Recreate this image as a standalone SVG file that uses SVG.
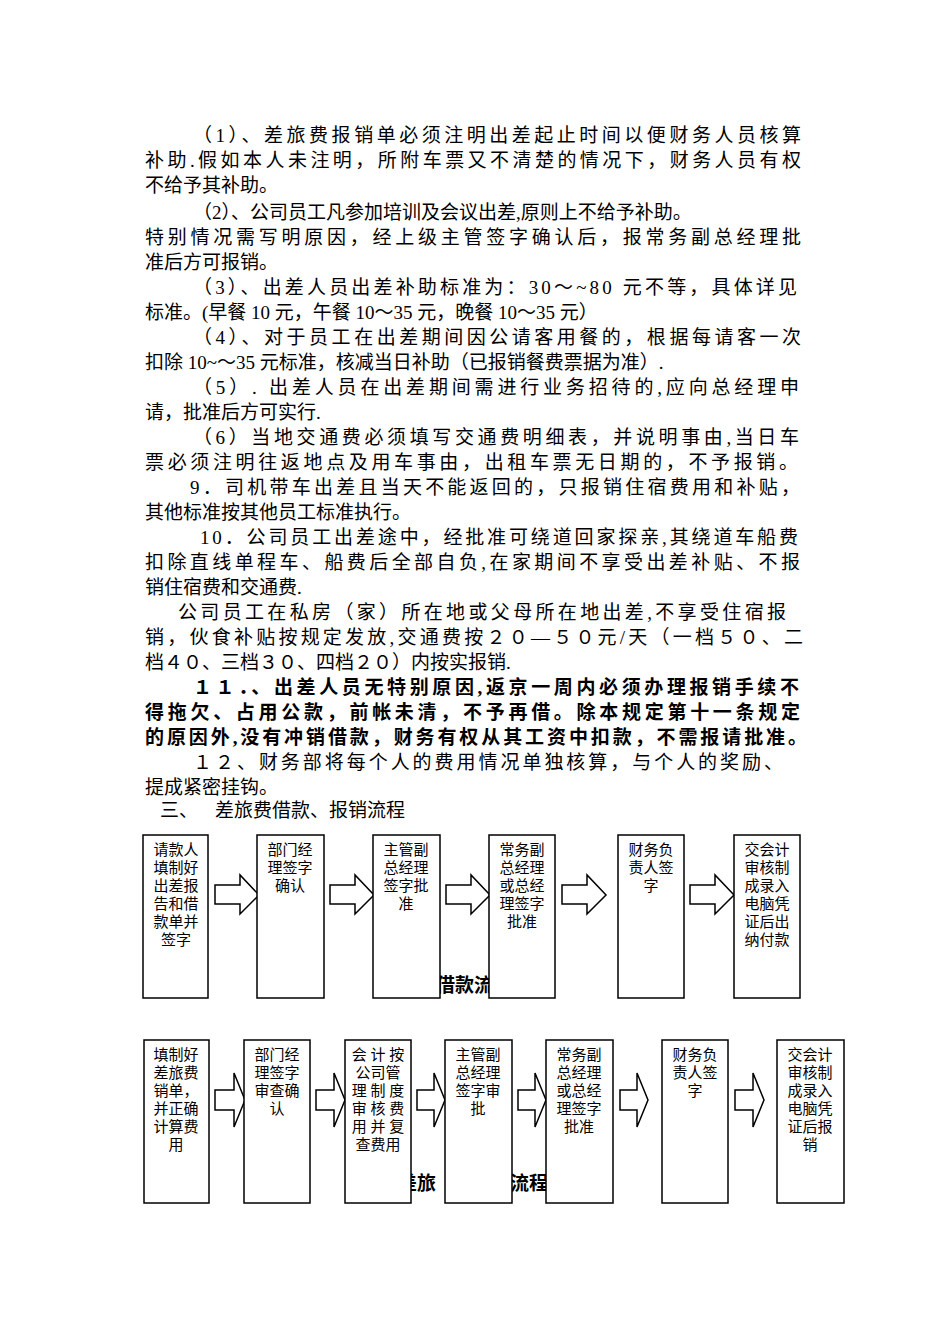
<svg xmlns="http://www.w3.org/2000/svg" width="950" height="1344" viewBox="0 0 950 1344">
<style>
.t{font-family:"Liberation Serif","Noto Sans CJK SC",serif;font-size:19px;fill:#000}
.b{font-weight:bold}
.n{font-family:"Liberation Serif","Noto Sans CJK SC",serif;font-size:15px;fill:#000;text-anchor:middle}
.box{fill:#fff;stroke:#000;stroke-width:1.5}
.ar{fill:#fff;stroke:#000;stroke-width:1.5}
.h{font-family:"Noto Sans CJK SC",sans-serif;font-size:19px;font-weight:bold}
</style>
<rect width="950" height="1344" fill="#fff"/>
<g id="body">
<text class="t" x="193" y="142" textLength="608" lengthAdjust="spacing">（1）、差旅费报销单必须注明出差起止时间以便财务人员核算</text>
<text class="t" x="145" y="167" textLength="656" lengthAdjust="spacing">补助.假如本人未注明，所附车票又不清楚的情况下，财务人员有权</text>
<text class="t" x="145" y="192">不给予其补助。</text>
<text class="t" x="193" y="219">（2）、公司员工凡参加培训及会议出差,原则上不给予补助。</text>
<text class="t" x="145" y="244" textLength="656" lengthAdjust="spacing">特别情况需写明原因，经上级主管签字确认后，报常务副总经理批</text>
<text class="t" x="145" y="269">准后方可报销。</text>
<text class="t" x="193" y="294" textLength="604" lengthAdjust="spacing">（3）、出差人员出差补助标准为：30～~80 元不等，具体详见</text>
<text class="t" x="145" y="319">标准。(早餐 10 元，午餐 10～35 元，晚餐 10～35 元）</text>
<text class="t" x="193" y="344" textLength="608" lengthAdjust="spacing">（4）、对于员工在出差期间因公请客用餐的，根据每请客一次</text>
<text class="t" x="145" y="369">扣除 10~～35 元标准，核减当日补助（已报销餐费票据为准）.</text>
<text class="t" x="193" y="394" textLength="606" lengthAdjust="spacing">（5）. 出差人员在出差期间需进行业务招待的,应向总经理申</text>
<text class="t" x="145" y="419">请，批准后方可实行.</text>
<text class="t" x="193" y="444" textLength="606" lengthAdjust="spacing">（6）当地交通费必须填写交通费明细表，并说明事由,当日车</text>
<text class="t" x="145" y="469" textLength="653" lengthAdjust="spacing">票必须注明往返地点及用车事由，出租车票无日期的，不予报销。</text>
<text class="t" x="190" y="494" textLength="610" lengthAdjust="spacing">9．司机带车出差且当天不能返回的，只报销住宿费用和补贴，</text>
<text class="t" x="145" y="519">其他标准按其他员工标准执行。</text>
<text class="t" x="200" y="544" textLength="598" lengthAdjust="spacing">10．公司员工出差途中，经批准可绕道回家探亲,其绕道车船费</text>
<text class="t" x="145" y="569" textLength="655" lengthAdjust="spacing">扣除直线单程车、船费后全部自负,在家期间不享受出差补贴、不报</text>
<text class="t" x="145" y="594">销住宿费和交通费.</text>
<text class="t" x="178" y="619" textLength="608" lengthAdjust="spacing">公司员工在私房（家）所在地或父母所在地出差,不享受住宿报</text>
<text class="t" x="145" y="644" textLength="658" lengthAdjust="spacing">销，伙食补贴按规定发放,交通费按２０—５０元/天（一档５０、二</text>
<text class="t" x="145" y="669">档４０、三档３０、四档２０）内按实报销.</text>
<text class="t b" x="193" y="694" textLength="606" lengthAdjust="spacing">１１．、出差人员无特别原因,返京一周内必须办理报销手续不</text>
<text class="t b" x="145" y="719" textLength="655" lengthAdjust="spacing">得拖欠、占用公款，前帐未清，不予再借。除本规定第十一条规定</text>
<text class="t b" x="145" y="744" textLength="662" lengthAdjust="spacing">的原因外,没有冲销借款，财务有权从其工资中扣款，不需报请批准。</text>
<text class="t" x="193" y="769" textLength="590" lengthAdjust="spacing">１２、财务部将每个人的费用情况单独核算，与个人的奖励、</text>
<text class="t" x="145" y="794">提成紧密挂钩。</text>
<text class="t" x="160" y="817">三、</text>
<text class="t" x="215" y="817">差旅费借款、报销流程</text>
</g>
<g id="labels">
<text class="h" x="436" y="992">借款流</text>
<text class="h" x="398" y="1190">差旅</text>
<text class="h" x="510" y="1190">流程</text>
</g>
<g id="connectors">
<path class="ar" d="M215 885H240V875L259 895L240 914V904H215Z"/>
<path class="ar" d="M330 885H355V875L374 895L355 914V904H330Z"/>
<path class="ar" d="M446 885H471V875L490 895L471 914V904H446Z"/>
<path class="ar" d="M562 885H587V875L606 895L587 914V904H562Z"/>
<path class="ar" d="M690 885H715V875L734 895L715 914V904H690Z"/>
<path class="ar" d="M215 1090H234V1073L245 1100L234 1127V1110H215Z"/>
<path class="ar" d="M316 1090H334V1073L345 1100L334 1127V1110H316Z"/>
<path class="ar" d="M417 1090H434V1073L445 1100L434 1127V1110H417Z"/>
<path class="ar" d="M518 1090H535V1073L546 1100L535 1127V1110H518Z"/>
<path class="ar" d="M620 1090H637V1073L648 1100L637 1127V1110H620Z"/>
<path class="ar" d="M735 1090H753V1073L764 1100L753 1127V1110H735Z"/>
</g>
<g id="n1"><rect class="box" x="143" y="835" width="65" height="163"/><text class="n"><tspan x="176" y="855">请款人</tspan><tspan x="176" y="873">填制好</tspan><tspan x="176" y="891">出差报</tspan><tspan x="176" y="909">告和借</tspan><tspan x="176" y="927">款单并</tspan><tspan x="176" y="945">签字</tspan></text></g>
<g id="n2"><rect class="box" x="257" y="835" width="67" height="163"/><text class="n"><tspan x="290" y="855">部门经</tspan><tspan x="290" y="873">理签字</tspan><tspan x="290" y="891">确认</tspan></text></g>
<g id="n3"><rect class="box" x="373" y="835" width="67" height="163"/><text class="n"><tspan x="406" y="855">主管副</tspan><tspan x="406" y="873">总经理</tspan><tspan x="406" y="891">签字批</tspan><tspan x="406" y="909">准</tspan></text></g>
<g id="n4"><rect class="box" x="489" y="835" width="66" height="163"/><text class="n"><tspan x="522" y="855">常务副</tspan><tspan x="522" y="873">总经理</tspan><tspan x="522" y="891">或总经</tspan><tspan x="522" y="909">理签字</tspan><tspan x="522" y="927">批准</tspan></text></g>
<g id="n5"><rect class="box" x="618" y="835" width="66" height="163"/><text class="n"><tspan x="651" y="855">财务负</tspan><tspan x="651" y="873">责人签</tspan><tspan x="651" y="891">字</tspan></text></g>
<g id="n6"><rect class="box" x="734" y="835" width="66" height="163"/><text class="n"><tspan x="767" y="855">交会计</tspan><tspan x="767" y="873">审核制</tspan><tspan x="767" y="891">成录入</tspan><tspan x="767" y="909">电脑凭</tspan><tspan x="767" y="927">证后出</tspan><tspan x="767" y="945">纳付款</tspan></text></g>
<g id="m1"><rect class="box" x="144" y="1040" width="65" height="163"/><text class="n"><tspan x="176" y="1060">填制好</tspan><tspan x="176" y="1078">差旅费</tspan><tspan x="176" y="1096">销单，</tspan><tspan x="176" y="1114">并正确</tspan><tspan x="176" y="1132">计算费</tspan><tspan x="176" y="1150">用</tspan></text></g>
<g id="m2"><rect class="box" x="244" y="1040" width="66" height="163"/><text class="n"><tspan x="277" y="1060">部门经</tspan><tspan x="277" y="1078">理签字</tspan><tspan x="277" y="1096">审查确</tspan><tspan x="277" y="1114">认</tspan></text></g>
<g id="m3"><rect class="box" x="345" y="1040" width="66" height="163"/><text class="n"><tspan x="378" y="1060">会 计 按</tspan><tspan x="378" y="1078">公司管</tspan><tspan x="378" y="1096">理 制 度</tspan><tspan x="378" y="1114">审 核 费</tspan><tspan x="378" y="1132">用 并 复</tspan><tspan x="378" y="1150">查费用</tspan></text></g>
<g id="m4"><rect class="box" x="445" y="1040" width="67" height="163"/><text class="n"><tspan x="478" y="1060">主管副</tspan><tspan x="478" y="1078">总经理</tspan><tspan x="478" y="1096">签字审</tspan><tspan x="478" y="1114">批</tspan></text></g>
<g id="m5"><rect class="box" x="546" y="1040" width="67" height="163"/><text class="n"><tspan x="579" y="1060">常务副</tspan><tspan x="579" y="1078">总经理</tspan><tspan x="579" y="1096">或总经</tspan><tspan x="579" y="1114">理签字</tspan><tspan x="579" y="1132">批准</tspan></text></g>
<g id="m6"><rect class="box" x="662" y="1040" width="66" height="163"/><text class="n"><tspan x="695" y="1060">财务负</tspan><tspan x="695" y="1078">责人签</tspan><tspan x="695" y="1096">字</tspan></text></g>
<g id="m7"><rect class="box" x="777" y="1040" width="67" height="163"/><text class="n"><tspan x="810" y="1060">交会计</tspan><tspan x="810" y="1078">审核制</tspan><tspan x="810" y="1096">成录入</tspan><tspan x="810" y="1114">电脑凭</tspan><tspan x="810" y="1132">证后报</tspan><tspan x="810" y="1150">销</tspan></text></g>
</svg>
